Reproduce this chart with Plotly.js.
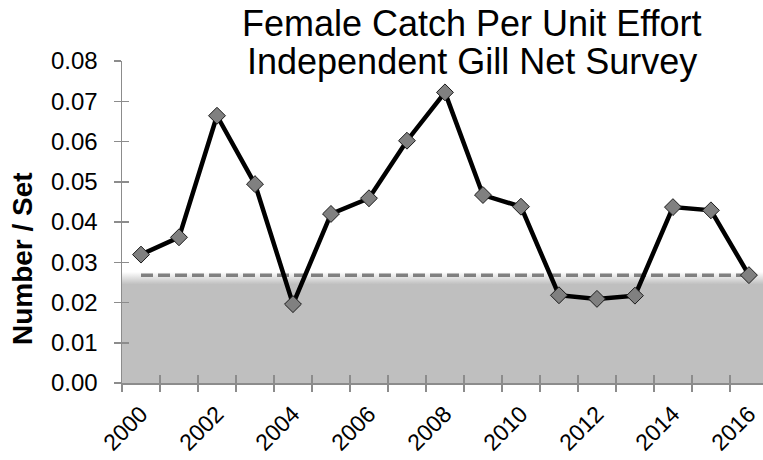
<!DOCTYPE html>
<html>
<head>
<meta charset="utf-8">
<script src="https://cdn.plot.ly/plotly-3.0.1.min.js"></script>
<style>html,body{margin:0;padding:0;background:#fff;}#chart{width:763px;height:460px;}</style>
</head>
<body>
<div id="chart"></div>
<script>
// ---- data ----
var years = ["2000","2001","2002","2003","2004","2005","2006","2007","2008","2009","2010","2011","2012","2013","2014","2015","2016"];
var cpue = [0.0319, 0.0362, 0.0664, 0.0494, 0.0196, 0.0420, 0.0459, 0.0602, 0.0722, 0.0467, 0.0438, 0.0218, 0.0209, 0.0217, 0.0437, 0.0429, 0.0268];
var benchmark = [0.0268, 0.0268, 0.0268, 0.0268, 0.0268, 0.0268, 0.0268, 0.0268, 0.0268, 0.0268, 0.0268, 0.0268, 0.0268, 0.0268, 0.0268, 0.0268, 0.0268];
var shadeTop = 0.0276;
var yTicks = [0, 0.01, 0.02, 0.03, 0.04, 0.05, 0.06, 0.07, 0.08];
var titleLines = ["Female Catch Per Unit Effort", "Independent Gill Net Survey"];
var yTitle = "Number / Set";

// ---- build ----
var idx = years.map(function(_, i){ return i; });
var labelIdx = idx.filter(function(i){ return i % 2 === 0; });
var labelTxt = labelIdx.map(function(i){ return years[i]; });
var n = years.length;
var shadeX = [-0.5, n - 0.5];
var shadeY = [shadeTop, shadeTop];

var FONT = "Liberation Sans, Arial, sans-serif";
var AX = "#8c8c8c";
var xRange = [-0.5, 16.37];
var yRange = [0, 0.08];

var traces = [
  {x: shadeX, y: shadeY, type: "scatter", mode: "lines", line: {width: 0},
   fill: "tozeroy",
   fillgradient: {type: "vertical", start: 0.0245, stop: shadeTop,
                  colorscale: [[0, "#bfbfbf"], [1, "#ffffff"]]},
   hoverinfo: "skip", showlegend: false},
  {x: idx, y: benchmark, type: "scatter", mode: "lines",
   line: {color: "#808080", width: 3.5, dash: "12px,5px"},
   hoverinfo: "skip", showlegend: false},
  {x: idx, y: cpue, type: "scatter", mode: "lines+markers",
   line: {color: "#000000", width: 4.5},
   marker: {symbol: "diamond", size: 13, color: "#808080", line: {color: "#1a1a1a", width: 1}},
   cliponaxis: false, showlegend: false},
  {x: [null], y: [null], xaxis: "x2", yaxis: "y2", type: "scatter", mode: "markers", showlegend: false, hoverinfo: "skip"},
  {x: [null], y: [null], xaxis: "x3", yaxis: "y", type: "scatter", mode: "markers", showlegend: false, hoverinfo: "skip"}
];

var layout = {
  width: 763, height: 460,
  margin: {l: 122, r: 0, t: 61, b: 77, pad: 0},
  paper_bgcolor: "#ffffff", plot_bgcolor: "#ffffff",
  font: {family: FONT, color: "#000000", size: 22},
  showlegend: false,
  xaxis: {range: xRange, tickmode: "array", tickvals: labelIdx, ticktext: labelTxt,
          tickangle: -45, ticks: "", showgrid: false, zeroline: false,
          showline: true, linecolor: AX, linewidth: 1.5,
          tickfont: {family: FONT, size: 23, color: "#000000"}, ticklabelstandoff: 7},
  xaxis2: {range: xRange, overlaying: "x", anchor: "y2", side: "bottom",
           tickmode: "linear", tick0: -0.5, dtick: 1, ticks: "inside", ticklen: 8,
           tickcolor: AX, tickwidth: 1.5, showticklabels: false, showgrid: false,
           zeroline: false, showline: false},
  xaxis3: {range: xRange, overlaying: "x", anchor: "y", side: "bottom",
           tickmode: "linear", tick0: -0.5, dtick: 1, ticks: "outside", ticklen: 8,
           tickcolor: AX, tickwidth: 1.5, showticklabels: false, showgrid: false,
           zeroline: false, showline: false},
  yaxis: {range: yRange, tickmode: "array", tickvals: yTicks, tickformat: ".2f",
          ticks: "outside", ticklen: 7, tickcolor: AX, tickwidth: 1.5,
          showgrid: false, zeroline: false, showline: true, linecolor: AX, linewidth: 1.5,
          tickfont: {family: FONT, size: 24, color: "#000000"}, ticklabelstandoff: 11},
  yaxis2: {range: yRange, overlaying: "y", anchor: "x2", side: "left",
           tickmode: "array", tickvals: yTicks, ticks: "inside", ticklen: 7,
           tickcolor: AX, tickwidth: 1.5, showticklabels: false, showgrid: false,
           zeroline: false, showline: false},
  annotations: [
    {text: titleLines[0], xref: "paper", yref: "paper", x: 0.546, y: 1.115,
     xanchor: "center", yanchor: "middle", showarrow: false,
     font: {family: FONT, size: 36, color: "#000000"}},
    {text: titleLines[1], xref: "paper", yref: "paper", x: 0.546, y: 0.999,
     xanchor: "center", yanchor: "middle", showarrow: false,
     font: {family: FONT, size: 36, color: "#000000"}},
    {text: "<b>" + yTitle + "</b>", textangle: -90, xref: "paper", yref: "paper",
     x: -0.156, y: 0.385, xanchor: "center", yanchor: "middle", showarrow: false,
     font: {family: FONT, size: 28, color: "#000000"}}
  ]
};

Plotly.newPlot("chart", traces, layout, {staticPlot: true, displayModeBar: false});
</script>
</body>
</html>
